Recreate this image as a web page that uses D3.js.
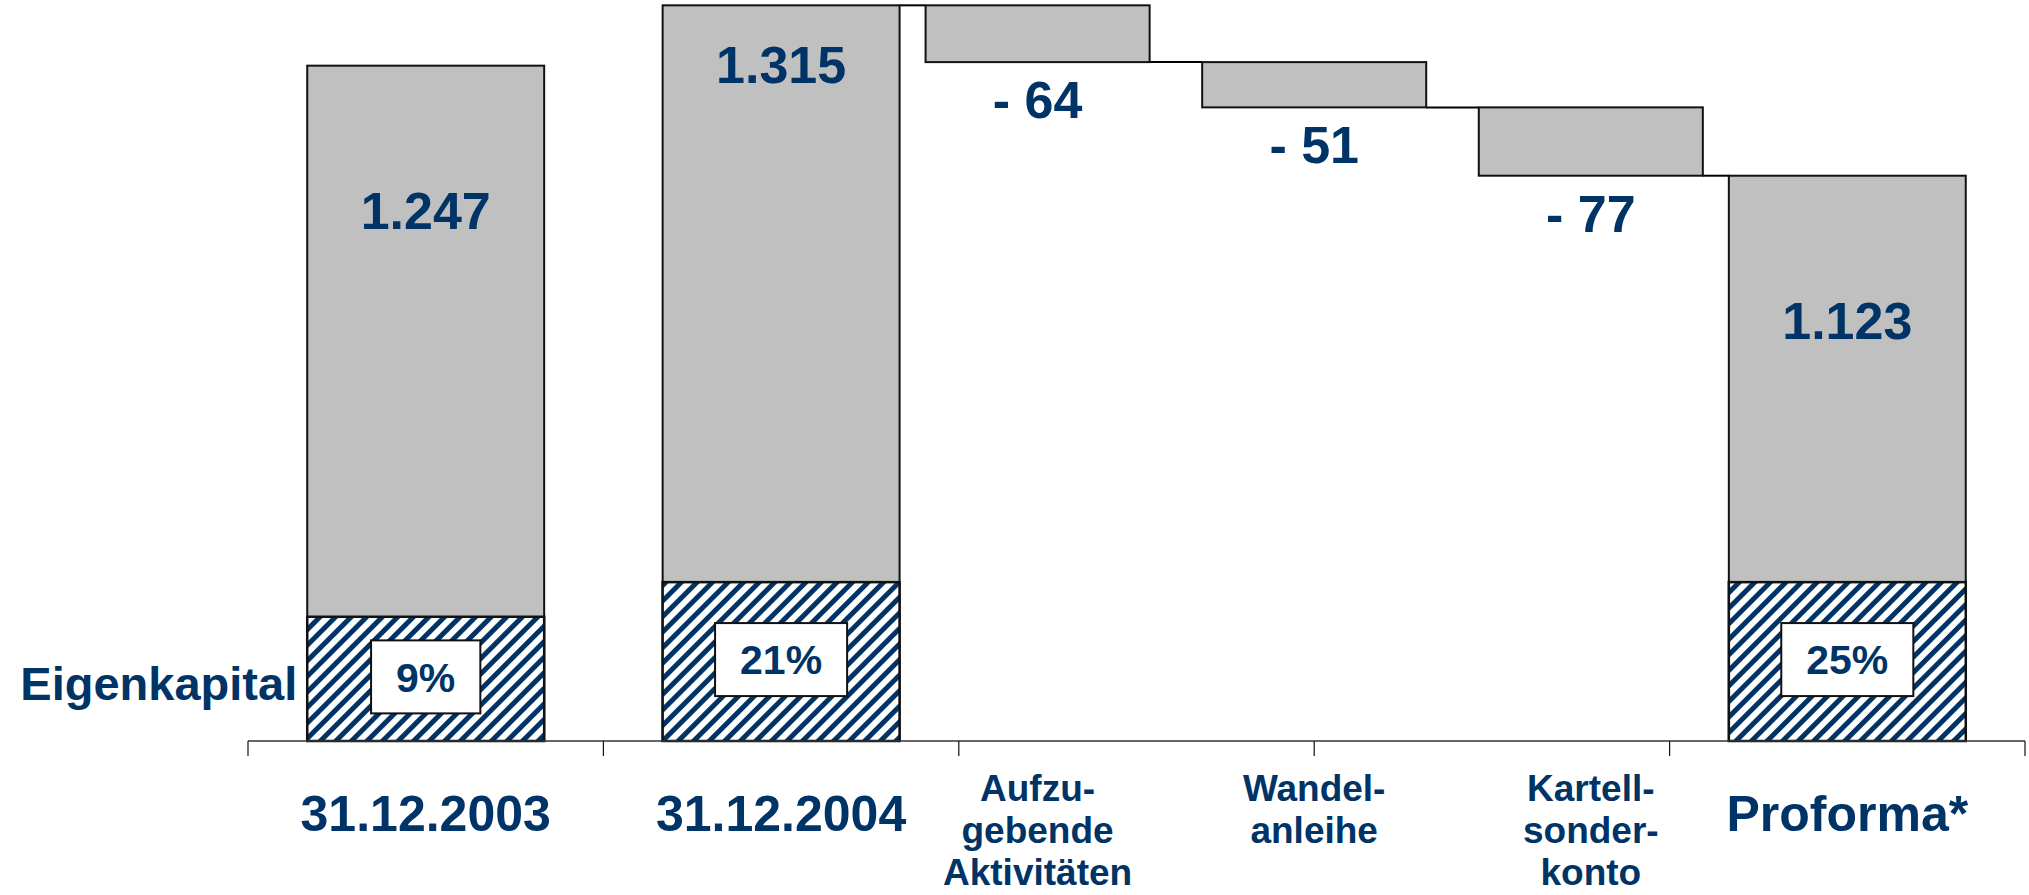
<!DOCTYPE html>
<html>
<head>
<meta charset="utf-8">
<script src="https://cdn.jsdelivr.net/npm/d3@7"></script>
<style>
  body { margin: 0; background: #fff; }
  text { font-family: "Liberation Sans", Arial, sans-serif; font-weight: bold; fill: #003366; }
</style>
</head>
<body>
<svg class="chart"></svg>
<script>
// totals (in Mio. EUR) and the equity part of each total
var totals = ["31.12.2003", "31.12.2004", "Proforma*"];
var totalValues = [1247, 1315, 1123];
var equityPct = [9, 21, 25];
var equityUnits = [140, 179, 179];   // height of the hatched equity block, chart units

// changes between 31.12.2004 and Proforma
var changes = ["Aufzugebende Aktivitäten", "Wandelanleihe", "Kartellsonderkonto"];
var changeLines = [["Aufzu-", "gebende", "Aktivitäten"], ["Wandel-", "anleihe"], ["Kartell-", "sonder-", "konto"]];
var changeValues = [-64, -51, -77];

var slots = ["31.12.2003", "31.12.2004", "chg1", "chg2", "Proforma*"];

function show() {

    'use strict';

    var width = 2029, height = 895,
        base = 741,
        navy = "#003366";

    var svg = d3.select(".chart")
        .attr("width", width)
        .attr("height", height);

    var defs = svg.append("defs");
    var pat = defs.append("pattern")
        .attr("id", "hatch")
        .attr("patternUnits", "userSpaceOnUse")
        .attr("width", 11).attr("height", 11)
        .attr("patternTransform", "rotate(45)");
    pat.append("rect").attr("width", 11).attr("height", 11).attr("fill", "#fff");
    pat.append("rect").attr("width", 5).attr("height", 11).attr("fill", navy);

    // x: five slots on the axis, the changes share the space between 2004 and Proforma
    var x = d3.scaleBand().domain(slots).range([248, 2025])
        .paddingInner(1 / 3).paddingOuter(1 / 6);
    var step = x.step();

    var xc = d3.scaleBand().domain(changes)
        .range([x("31.12.2004") + x.bandwidth(), x("Proforma*")])
        .paddingInner(0.19).paddingOuter(0.094);

    // truncated value axis, like the original slide
    var y = d3.scaleLinear().domain([486, 1321]).range([base, 0]);

    // running waterfall levels
    var levels = [totalValues[1]];
    changeValues.forEach(function(v) { levels.push(levels[levels.length - 1] + v); });

    var data = totals.map(function(t, i) {
        return {name: t, value: totalValues[i], pct: equityPct[i], eq: equityUnits[i]};
    });
    var steps = changes.map(function(c, i) {
        return {name: c, lines: changeLines[i], value: changeValues[i], top: levels[i], bottom: levels[i + 1]};
    });

    // connectors
    var conn = [];
    conn.push({x1: x("31.12.2004") + x.bandwidth(), x2: xc(changes[0]), v: levels[0]});
    steps.forEach(function(s, i) {
        conn.push({
            x1: xc(s.name) + xc.bandwidth(),
            x2: i < steps.length - 1 ? xc(changes[i + 1]) : x("Proforma*"),
            v: s.bottom
        });
    });
    svg.append("g").selectAll("line").data(conn).enter()
        .append("line")
        .attr("x1", function(d) { return d.x1; })
        .attr("x2", function(d) { return d.x2; })
        .attr("y1", function(d) { return y(d.v); })
        .attr("y2", function(d) { return y(d.v); })
        .attr("stroke", "#000").attr("stroke-width", 2);

    // total bars
    var tb = svg.append("g").selectAll("g").data(data).enter().append("g");
    tb.append("rect")
        .attr("x", function(d) { return x(d.name); })
        .attr("y", function(d) { return y(d.value); })
        .attr("width", x.bandwidth())
        .attr("height", function(d) { return base - y(d.value); })
        .attr("fill", "#c0c0c0").attr("stroke", "#111").attr("stroke-width", 2);
    tb.append("rect")
        .attr("x", function(d) { return x(d.name); })
        .attr("y", function(d) { return y(y.domain()[0] + d.eq); })
        .attr("width", x.bandwidth())
        .attr("height", function(d) { return base - y(y.domain()[0] + d.eq); })
        .attr("fill", "url(#hatch)").attr("stroke", "#111").attr("stroke-width", 2.5);

    var labelDrop = {"31.12.2004": 78};
    tb.append("text")
        .attr("x", function(d) { return x(d.name) + x.bandwidth() / 2; })
        .attr("y", function(d) { return y(d.value) + (labelDrop[d.name] || 163); })
        .attr("text-anchor", "middle")
        .attr("font-size", 52)
        .text(function(d) { return d3.format(",")(d.value).replace(",", "."); });

    // percentage boxes
    tb.each(function(d) {
        var g = d3.select(this);
        var top = y(y.domain()[0] + d.eq);
        var cy = (top + base) / 2 - 2;
        var cx = x(d.name) + x.bandwidth() / 2;
        var box = g.append("rect").attr("fill", "#fff").attr("stroke", "#111").attr("stroke-width", 2);
        var t = g.append("text")
            .attr("x", cx).attr("y", cy + 14.7)
            .attr("text-anchor", "middle")
            .attr("font-size", 41)
            .text(d.pct + "%");
        var w = t.node().getComputedTextLength() + 50;
        box.attr("x", cx - w / 2).attr("y", cy - 36.5).attr("width", w).attr("height", 73);
    });

    // change bars
    var cb = svg.append("g").selectAll("g").data(steps).enter().append("g");
    cb.append("rect")
        .attr("x", function(d) { return xc(d.name); })
        .attr("y", function(d) { return y(d.top); })
        .attr("width", xc.bandwidth())
        .attr("height", function(d) { return y(d.bottom) - y(d.top); })
        .attr("fill", "#c0c0c0").attr("stroke", "#111").attr("stroke-width", 2);
    cb.append("text")
        .attr("x", function(d) { return xc(d.name) + xc.bandwidth() / 2; })
        .attr("y", function(d) { return y(d.bottom) + 56; })
        .attr("text-anchor", "middle")
        .attr("font-size", 52)
        .text(function(d) { return "- " + Math.abs(d.value); });

    // axis
    var ax = svg.append("g");
    ax.append("line")
        .attr("x1", x.range()[0]).attr("x2", x.range()[1])
        .attr("y1", base).attr("y2", base)
        .attr("stroke", "#333").attr("stroke-width", 1.5);
    var ticks = slots.map(function(s) { return x(s) - step / 6; }).concat([x.range()[1]]);
    ax.selectAll(".tick").data(ticks).enter()
        .append("line")
        .attr("x1", function(d) { return d; }).attr("x2", function(d) { return d; })
        .attr("y1", base).attr("y2", base + 15)
        .attr("stroke", "#111").attr("stroke-width", 1.2);

    ax.selectAll(".tl").data(totals).enter()
        .append("text")
        .attr("x", function(d) { return x(d) + x.bandwidth() / 2; })
        .attr("y", 831)
        .attr("text-anchor", "middle")
        .attr("font-size", 50)
        .text(function(d) { return d; });

    var cl = ax.selectAll(".cl").data(steps).enter()
        .append("text")
        .attr("text-anchor", "middle")
        .attr("font-size", 37);
    cl.selectAll("tspan").data(function(d) {
            return d.lines.map(function(l) { return {l: l, cx: xc(d.name) + xc.bandwidth() / 2}; });
        }).enter()
        .append("tspan")
        .attr("x", function(d) { return d.cx; })
        .attr("y", function(d, i) { return 801 + i * 42; })
        .text(function(d) { return d.l; });

    svg.append("text")
        .attr("x", x(totals[0]) - 10)
        .attr("y", 700)
        .attr("text-anchor", "end")
        .attr("font-size", 47)
        .text("Eigenkapital");
}
show();
</script>
</body>
</html>
